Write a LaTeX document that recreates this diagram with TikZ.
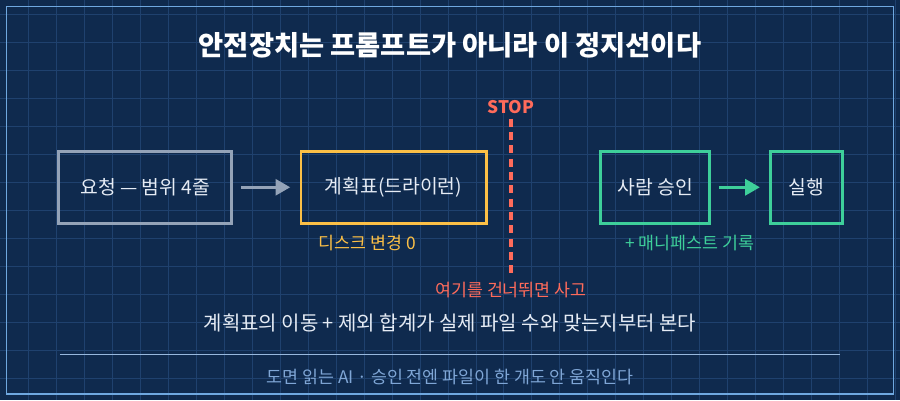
\documentclass[tikz,border=0pt]{standalone}
\usepackage{fontspec}
\setmainfont{Noto Sans CJK KR}
\usetikzlibrary{positioning, arrows.meta}
\definecolor{bgnavy}{HTML}{0F2A4E}
\definecolor{gridline}{HTML}{1F416E}
\definecolor{frameblue}{HTML}{6FA8E0}
\definecolor{slate}{HTML}{94A3B8}
\definecolor{amber}{HTML}{FBBF46}
\definecolor{mint}{HTML}{3ECF9A}
\definecolor{coral}{HTML}{FF6B5B}
\definecolor{softtext}{HTML}{E6ECF5}
\definecolor{footblue}{HTML}{7FA6D6}
\tikzset{
  stage/.style={draw=#1, line width=2.2pt, minimum height=54pt, text=softtext, font=\fontsize{14.5}{16}\selectfont},
  flow/.style={line width=2.2pt, -{Triangle[length=11pt,width=12pt]}},
}
\begin{document}
\begin{tikzpicture}[x=0.75pt,y=-0.75pt]
	% Background and grid
	\fill[bgnavy] (0,0) rectangle (900,400);
	\foreach \gx in {28,56,...,896} \draw[gridline, line width=0.7pt] (\gx,0) -- (\gx,400);
	\foreach \gy in {14,42,...,400} \draw[gridline, line width=0.7pt] (0,\gy) -- (900,\gy);
	\draw[frameblue, line width=1.2pt] (6,6) rectangle (894,394);
	\useasboundingbox (0,0) rectangle (900,400);
	% Title
	\node[text=white, font=\bfseries\fontsize{20.5}{24}\selectfont] (title) at (450,45) {안전장치는 프롬프트가 아니라 이 정지선이다};
	% Stages
	\node[stage=slate, minimum width=130pt] (req) at (145,187) {요청 — 범위 4줄};
	\node[stage=amber, minimum width=139pt] (plan) at (393.5,187) {계획표(드라이런)};
	\node[stage=mint, minimum width=82pt] (ok) at (655.5,187) {사람 승인};
	\node[stage=mint, minimum width=54pt] (run) at (807,187) {실행};
	\draw[flow, slate] ([xshift=6]req.east) -- ([xshift=-7]plan.west);
	\draw[flow, mint] ([xshift=6]ok.east) -- ([xshift=-7]run.west);
	% Stop line
	\node[text=coral, font=\bfseries\fontsize{13}{15}\selectfont] (stop) at (511,107) {STOP};
	\coordinate (stopend) at (511,273);
	\draw[coral, line width=3pt, dash pattern=on 6pt off 4pt] (stop.south) -- (stopend);
	\node[text=coral, font=\fontsize{13}{15}\selectfont] (skip) at (511,290) {여기를 건너뛰면 사고};
	% Notes
	\node[text=amber, font=\fontsize{13}{15}\selectfont, anchor=west] (disk) at (314,243) {디스크 변경 0};
	\node[text=mint, font=\fontsize{13}{15}\selectfont] (mani) at (690,243) {+ 매니페스트 기록};
	\node[text=softtext, font=\fontsize{15}{17}\selectfont] (check) at (450,323) {계획표의 이동 + 제외 합계가 실제 파일 수와 맞는지부터 본다};
	\draw[footblue!80, line width=0.8pt] (60,354) -- (840,354);
	\node[text=footblue, font=\fontsize{13}{15}\selectfont] (foot) at (450,377) {도면 읽는 AI · 승인 전엔 파일이 한 개도 안 움직인다};
\end{tikzpicture}
\end{document}
